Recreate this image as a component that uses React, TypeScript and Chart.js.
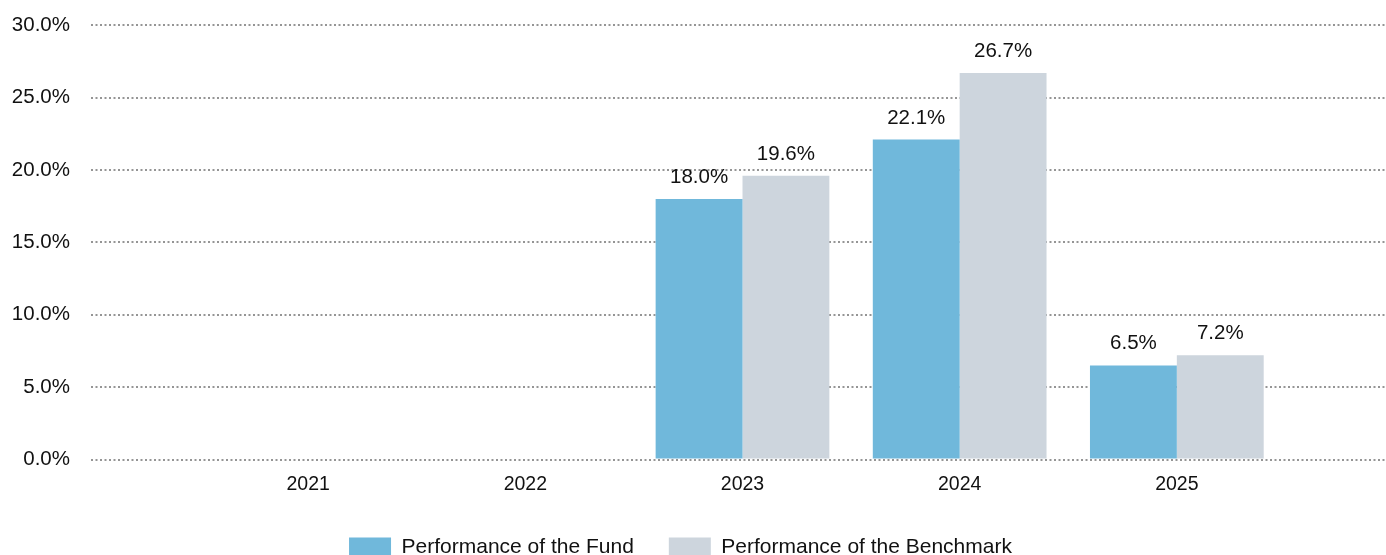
import React, { useEffect, useRef } from "react";
import { Chart, registerables } from "chart.js";

Chart.register(...registerables);

const years = ["2021", "2022", "2023", "2024", "2025"];
const fundValues: (number | null)[] = [null, null, 18.0, 22.1, 6.5];
const benchmarkValues: (number | null)[] = [null, null, 19.6, 26.7, 7.2];
const seriesNames = ["Performance of the Fund", "Performance of the Benchmark"];
const seriesColors = ["#70b8db", "#cdd5dd"];

const FONT = "'Liberation Sans', Arial, sans-serif";

const valueLabels = {
  id: "valueLabels",
  afterDatasetsDraw(chart: any) {
    const ctx = chart.ctx;
    ctx.save();
    ctx.font = `20.5px ${FONT}`;
    ctx.fillStyle = "#111";
    ctx.textAlign = "center";
    ctx.textBaseline = "alphabetic";
    chart.data.datasets.forEach((ds: any, di: number) => {
      const meta = chart.getDatasetMeta(di);
      meta.data.forEach((el: any, i: number) => {
        const v = ds.data[i]?.y;
        if (v === null || v === undefined) return;
        ctx.fillText(`${v.toFixed(1)}%`, el.x, el.y - 16);
      });
    });
    ctx.restore();
  },
};

const legendShift = {
  id: "legendShift",
  afterLayout(chart: any) {
    const lg = chart.legend;
    if (!lg) return;
    const dx = -22;
    const dy = -7;
    lg.left += dx;
    lg.right += dx;
    lg.top += dy;
    lg.bottom += dy;
  },
};

export default function App() {
  const ref = useRef<HTMLCanvasElement>(null);
  useEffect(() => {
    document.body.style.margin = "0";
    const toPts = (arr: (number | null)[]) => arr.map((y, i) => ({ x: i, y }));
    const chart = new Chart(ref.current!, {
      type: "bar",
      data: {
        datasets: [
          {
            label: seriesNames[0],
            data: toPts(fundValues) as any,
            backgroundColor: seriesColors[0],
            categoryPercentage: 0.8,
            barPercentage: 1.0,
          },
          {
            label: seriesNames[1],
            data: toPts(benchmarkValues) as any,
            backgroundColor: seriesColors[1],
            categoryPercentage: 0.8,
            barPercentage: 1.0,
          },
        ],
      },
      options: {
        responsive: false,
        animation: false,
        devicePixelRatio: 1,
        layout: { padding: { top: 0, right: 2, left: 0, bottom: 0 } },
        plugins: {
          tooltip: { enabled: false },
          legend: {
            position: "bottom",
            labels: {
              boxWidth: 42,
              boxHeight: 20,
              padding: 35,
              color: "#111",
              font: { family: FONT, size: 21 },
            },
          },
        },
        scales: {
          x: {
            type: "linear",
            min: -1,
            max: 5,
            offset: false,
            grid: { display: false, drawTicks: false },
            border: { display: false },
            ticks: {
              stepSize: 1,
              autoSkip: false,
              maxRotation: 0,
              padding: 13,
              color: "#111",
              font: { family: FONT, size: 19.5 },
              callback: (v: any) => {
                const i = Number(v);
                return Number.isInteger(i) && i >= 0 && i < years.length ? years[i] : "";
              },
            },
          },
          y: {
            min: 0,
            max: 30,
            afterFit: (s: any) => {
              s.width = 91;
            },
            grid: {
              color: "#959595",
              lineWidth: 2,
              drawTicks: false,
            },
            border: { display: false, dash: [2, 2.5] },
            ticks: {
              stepSize: 5,
              padding: 21,
              color: "#111",
              font: { family: FONT, size: 20.5, lineHeight: 0.4 },
              callback: (v: any) => `${Number(v).toFixed(1)}%`,
            },
          },
        },
      },
      plugins: [valueLabels, legendShift],
    });
    return () => chart.destroy();
  }, []);
  return (
    <div style={{ width: 1386, height: 555, overflow: "hidden" }}>
      <canvas ref={ref} width={1407} height={575} style={{ display: "block" }} />
    </div>
  );
}
